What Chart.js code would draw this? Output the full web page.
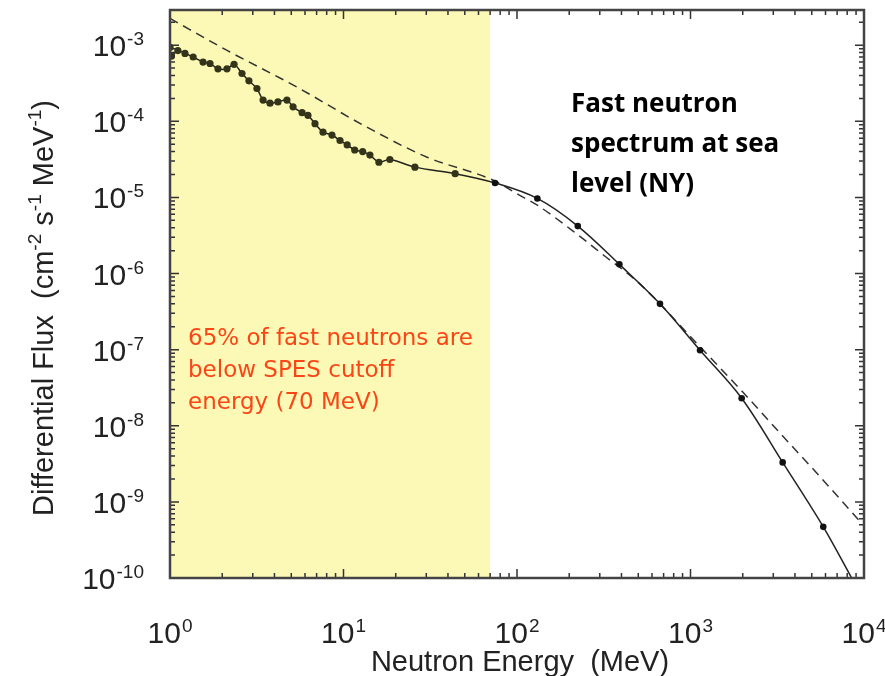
<!DOCTYPE html>
<html>
<head>
<meta charset="utf-8">
<script src="https://cdn.jsdelivr.net/npm/chart.js@4.4.1/dist/chart.umd.min.js"></script>
<style>
html, body { margin: 0; padding: 0; background: #fff; }
</style>
</head>
<body>
<canvas id="fluxChart" width="885" height="676"></canvas>
<script>
// measured spectrum, dense low energy part (MeV, cm-2 s-1 MeV-1)
var lowEnergy = [1.0, 1.02, 1.11, 1.22, 1.36, 1.55, 1.7, 1.89, 2.13, 2.34, 2.6, 2.85, 3.17, 3.44, 3.77,
    4.19, 4.72, 5.12, 5.77, 6.24, 6.85, 7.62, 8.58, 9.55, 10.5, 11.6, 12.9, 14.2, 16.0, 18.5, 25.8, 44.0];
var lowFlux = [9.4e-4, 7.2e-4, 8.5e-4, 7.8e-4, 7.0e-4, 6.0e-4, 5.75e-4, 4.9e-4, 4.9e-4, 5.6e-4, 4.25e-4, 3.4e-4,
    2.7e-4, 1.9e-4, 1.73e-4, 1.8e-4, 1.9e-4, 1.55e-4, 1.3e-4, 1.2e-4, 9.3e-5, 7.2e-5, 6.6e-5, 5.6e-5,
    4.9e-5, 4.2e-5, 4.0e-5, 3.6e-5, 2.9e-5, 3.15e-5, 2.5e-5, 2.05e-5];
// measured spectrum, high energy part
var highEnergy = [74.7, 131, 224, 389, 667, 1135, 1972, 3398, 5824];
var highFlux = [1.55e-5, 9.7e-6, 4.2e-6, 1.32e-6, 4.0e-7, 9.8e-8, 2.3e-8, 3.3e-9, 4.7e-10];
// solid curve runs on past the last point
var tailEnergy = [8490];
var tailFlux = [1.0e-10];
// dashed fit
var fitEnergy = [1, 2.12, 5.37, 13.0, 30.1, 73, 102, 131, 227, 316, 501, 1122, 1995, 3388, 5623, 9772];
var fitFlux = [2.25e-3, 8.6e-4, 2.83e-4, 8.9e-5, 3.4e-5, 1.68e-5, 1.09e-5, 7.9e-6, 3.16e-6, 1.74e-6, 7.6e-7,
    1.12e-7, 2.79e-8, 7.4e-9, 2.1e-9, 5.1e-10];

var xDecades = [0, 1, 2, 3, 4];
var yDecades = [-3, -4, -5, -6, -7, -8, -9, -10];
var cutoffEnergy = 70;
var noteLines = ['65% of fast neutrons are', 'below SPES cutoff', 'energy (70 MeV)'];
var titleLines = ['Fast neutron', 'spectrum at sea', 'level (NY)'];

var toPoints = function (xs, ys) {
    return xs.map(function (v, i) { return { x: v, y: ys[i] }; });
}

var measured = toPoints(lowEnergy, lowFlux)
    .concat(toPoints(highEnergy, highFlux))
    .concat(toPoints(tailEnergy, tailFlux));
var nLow = lowEnergy.length;
var nHigh = highEnergy.length;

// draw "10" with a raised exponent
var drawPower = function (ctx, exp, x, y, align) {
    ctx.font = '30px "Liberation Sans", Arial, sans-serif';
    var wb = ctx.measureText('10').width;
    ctx.font = '19px "Liberation Sans", Arial, sans-serif';
    var ws = ctx.measureText(String(exp)).width + 1;
    var left = align === 'right' ? x - wb - ws : x - (wb + ws) / 2;
    ctx.textAlign = 'left';
    ctx.textBaseline = 'alphabetic';
    ctx.font = '30px "Liberation Sans", Arial, sans-serif';
    ctx.fillText('10', left, y);
    ctx.font = '19px "Liberation Sans", Arial, sans-serif';
    ctx.fillText(String(exp), left + wb + 1, y - 11);
}

var drawRuns = function (ctx, runs, size) {
    var x = 0;
    runs.forEach(function (r) {
        ctx.font = (r.sup ? Math.round(size * 0.65) : size) + 'px "Liberation Sans", Arial, sans-serif';
        ctx.fillText(r.t, x, r.sup ? -size * 0.4 : 0);
        x += ctx.measureText(r.t).width;
    });
}

var cutoffBand = {
    id: 'cutoffBand',
    beforeDatasetsDraw: function (chart) {
        var ctx = chart.ctx, a = chart.chartArea;
        var xc = chart.scales.x.getPixelForValue(cutoffEnergy);
        ctx.save();
        ctx.fillStyle = '#fcf9b6';
        ctx.fillRect(a.left, a.top, xc - a.left, a.bottom - a.top);
        ctx.restore();
    }
}

var frameAndText = {
    id: 'frameAndText',
    afterDatasetsDraw: function (chart) {
        var ctx = chart.ctx, a = chart.chartArea;
        var xs = chart.scales.x, ys = chart.scales.y;
        ctx.save();

        // inward ticks on all four sides
        ctx.strokeStyle = '#333';
        ctx.lineWidth = 1.5;
        ctx.beginPath();
        xDecades.forEach(function (d) {
            for (var m = 1; m < 10; m++) {
                var v = m * Math.pow(10, d);
                if (v > xs.max) break;
                var px = xs.getPixelForValue(v);
                var len = m === 1 ? 9 : 5;
                ctx.moveTo(px, a.bottom); ctx.lineTo(px, a.bottom - len);
                ctx.moveTo(px, a.top); ctx.lineTo(px, a.top + len);
            }
        });
        yDecades.forEach(function (d) {
            for (var m = 1; m < 10; m++) {
                var v = m * Math.pow(10, d);
                if (v > ys.max) break;
                var py = ys.getPixelForValue(v);
                var len = m === 1 ? 9 : 5;
                ctx.moveTo(a.left, py); ctx.lineTo(a.left + len, py);
                ctx.moveTo(a.right, py); ctx.lineTo(a.right - len, py);
            }
        });
        ctx.stroke();

        // frame
        ctx.strokeStyle = '#444';
        ctx.lineWidth = 2.5;
        ctx.strokeRect(a.left, a.top, a.right - a.left, a.bottom - a.top);

        // tick labels
        ctx.fillStyle = '#222';
        xDecades.forEach(function (d) {
            drawPower(ctx, d, xs.getPixelForValue(Math.pow(10, d)), 643, 'center');
        });
        yDecades.forEach(function (d) {
            drawPower(ctx, d, 144, ys.getPixelForValue(Math.pow(10, d)) + 11, 'right');
        });

        // axis titles
        ctx.textAlign = 'center';
        ctx.font = '29px "Liberation Sans", Arial, sans-serif';
        ctx.fillText('Neutron Energy  (MeV)', (a.left + a.right) / 2 + 3, 671);

        ctx.save();
        ctx.translate(53, 516);
        ctx.rotate(-Math.PI / 2);
        ctx.textAlign = 'left';
        drawRuns(ctx, [
            { t: 'Differential Flux  (cm' }, { t: '-2', sup: true }, { t: ' s' }, { t: '-1', sup: true },
            { t: ' MeV' }, { t: '-1', sup: true }, { t: ')' }
        ], 29);
        ctx.restore();

        // notes
        ctx.textAlign = 'left';
        ctx.fillStyle = '#000';
        ctx.font = 'bold 26px "Open Sans", sans-serif';
        titleLines.forEach(function (t, i) { ctx.fillText(t, 571, 112 + i * 40); });
        ctx.fillStyle = '#fa4616';
        ctx.font = '23px "DejaVu Sans", sans-serif';
        noteLines.forEach(function (t, i) { ctx.fillText(t, 188, 345 + i * 32); });

        ctx.restore();
    }
}

new Chart('fluxChart', {
    type: 'scatter',
    data: {
        datasets: [{
            data: measured,
            showLine: true,
            borderColor: '#222',
            borderWidth: 1.5,
            tension: 0.35,
            pointRadius: function (c) { return c.dataIndex < nLow ? 3.6 : (c.dataIndex < nLow + nHigh ? 3.3 : 0); },
            pointBackgroundColor: function (c) { return c.dataIndex < nLow ? '#34341a' : '#111'; },
            pointBorderWidth: 0
        }, {
            data: toPoints(fitEnergy, fitFlux),
            showLine: true,
            borderColor: '#333',
            borderWidth: 1.5,
            borderDash: [9, 6],
            cubicInterpolationMode: 'monotone',
            pointRadius: 0
        }]
    },
    options: {
        responsive: false,
        devicePixelRatio: 1,
        animation: false,
        layout: { padding: { left: 170, top: 10, right: 21, bottom: 98 } },
        scales: {
            x: { type: 'logarithmic', min: 1, max: 1e4, display: false },
            y: { type: 'logarithmic', min: 1e-10, max: 2.9e-3, display: false }
        },
        plugins: { legend: { display: false }, tooltip: { enabled: false } }
    },
    plugins: [cutoffBand, frameAndText]
});
</script>
</body>
</html>
